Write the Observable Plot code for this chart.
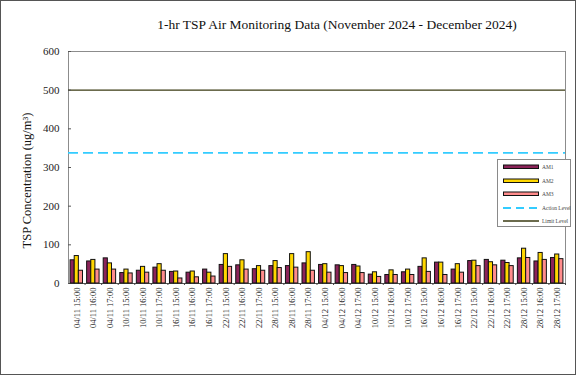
<!DOCTYPE html>
<html>
<head>
<meta charset="utf-8">
<script src="https://cdn.jsdelivr.net/npm/d3@7"></script>
<script src="https://cdn.jsdelivr.net/npm/@observablehq/plot@0.6"></script>
<style>
  html, body { margin: 0; padding: 0; background: #fff; }
  #wrap { position: relative; width: 576px; height: 375px; box-sizing: border-box; border: 1px solid #555; overflow: hidden; font-family: "Liberation Serif", "Times New Roman", serif; }
  #title { height: 40px; line-height: 48px; text-align: center; font-size: 13.5px; color: #111; padding-left: 98px; box-sizing: border-box; }
  #chart { position: relative; width: 574px; height: 333px; }
  #chart svg { position: absolute; left: 0; top: 0; }
  #legend { position: absolute; left: 496px; top: 158px; width: 74px; height: 68px; border: 1px solid #8a8a8a; background: #fff; box-sizing: border-box; }
  .li { position: absolute; left: 5px; height: 8px; display: flex; align-items: center; font-size: 5.5px; color: #444; white-space: nowrap; }
  .li svg { margin-right: 3px; flex: none; }
</style>
</head>
<body>
<div id="wrap">
  <div id="title">1-hr TSP Air Monitoring Data (November 2024 - December 2024)</div>
  <div id="chart"></div>
  <div id="legend"></div>
</div>
<script>
const categories = [
  "04/11 15:00","04/11 16:00","04/11 17:00",
  "10/11 15:00","10/11 16:00","10/11 17:00",
  "16/11 15:00","16/11 16:00","16/11 17:00",
  "22/11 15:00","22/11 16:00","22/11 17:00",
  "28/11 15:00","28/11 16:00","28/11 17:00",
  "04/12 15:00","04/12 16:00","04/12 17:00",
  "10/12 15:00","10/12 16:00","10/12 17:00",
  "16/12 15:00","16/12 16:00","16/12 17:00",
  "22/12 15:00","22/12 16:00","22/12 17:00",
  "28/12 15:00","28/12 16:00","28/12 17:00"
];
const seriesNames = ["AM1", "AM2", "AM3"];
const am1 = [60,57,65, 27,33,41, 30,28,36, 48,47,37, 45,45,52, 48,47,48, 23,22,29, 43,54,36, 58,61,59, 65,57,66];
const am2 = [71,61,52, 36,43,50, 31,31,28, 76,60,45, 58,76,81, 50,45,44, 29,34,36, 65,54,50, 59,55,53, 90,79,75];
const am3 = [33,36,36, 26,28,33, 13,16,18, 43,36,33, 40,41,33, 28,27,27, 17,22,22, 30,22,28, 45,47,45, 66,61,63];
const actionLevel = 338;
const limitLevel = 500;
const yTicks = [0, 100, 200, 300, 400, 500, 600];
const seriesColors = ["#8B2359", "#FFD700", "#FF8C8C"];
const actionColor = "#33CCFF";
const limitColor = "#3A3A12";
const yLabel = "TSP Concentration (ug/m³)";

const values = [am1, am2, am3];
const data = categories.flatMap((c, i) => seriesNames.map((s, k) => ({cat: c, s, v: values[k][i]})));

const common = {
  width: 574,
  height: 333,
  marginTop: 10,
  marginBottom: 91,
  marginLeft: 67,
  marginRight: 10,
  style: {fontFamily: "'Liberation Serif', 'Times New Roman', serif", color: "#222", background: "transparent"},
  y: {domain: [0, 600], axis: null}
};

// base layer: frame, reference lines, axes
const base = Plot.plot({
  ...common,
  x: {type: "band", domain: categories, padding: 0, round: false, axis: null},
  marks: [
    Plot.frame({stroke: "#8c8c8c", strokeWidth: 1}),
    Plot.ruleY([limitLevel], {stroke: limitColor, strokeWidth: 1.3}),
    Plot.ruleY([actionLevel], {stroke: actionColor, strokeWidth: 1.8, strokeDasharray: "10,5"}),
    Plot.ruleX([0], {frameAnchor: "left", stroke: "#555"}),
    Plot.ruleY([0], {stroke: "#555"}),
    // small tick marks between categories on the category axis
    Plot.axisX({anchor: "bottom", tickSize: 2, text: null, dx: 8.28, stroke: "#444", label: null}),
    Plot.axisX({anchor: "bottom", tickRotate: -90, tickSize: 0, tickPadding: 4, fontSize: 8.5, label: null}),
    Plot.axisY({ticks: yTicks, tickSize: -3, tickPadding: 12, fontSize: 11, label: null, stroke: "#555"}),
    Plot.text([yLabel], {frameAnchor: "left", textAnchor: "middle", rotate: -90, dx: -42, dy: 13, fontSize: 12.5, fill: "#111"})
  ]
});

// bar layer: grouped bars via facets
const bars = Plot.plot({
  ...common,
  fx: {domain: categories, padding: 0, round: false, axis: null},
  x: {domain: seriesNames, paddingInner: 0, paddingOuter: 0.5, round: false, axis: null},
  color: {domain: seriesNames, range: seriesColors},
  marks: [
    Plot.barY(data, {fx: "cat", x: "s", y: "v", fill: "s", stroke: "#111", strokeWidth: 1})
  ]
});

const host = document.getElementById("chart");
host.appendChild(base);
host.appendChild(bars);

// legend
const legend = document.getElementById("legend");
const legendItems = [
  ...seriesNames.map((s, k) => ({label: s, kind: "bar", color: seriesColors[k]})),
  {label: "Action Level", kind: "dash", color: actionColor},
  {label: "Limit Level", kind: "line", color: limitColor}
];
legendItems.forEach((it, i) => {
  const div = document.createElement("div");
  div.className = "li";
  div.style.top = (3 + i * 13.5) + "px";
  let sw;
  if (it.kind === "bar") {
    sw = `<svg width="36" height="6"><rect x="0.5" y="1" width="35" height="3.5" fill="${it.color}" stroke="#111" stroke-width="1"/></svg>`;
  } else if (it.kind === "dash") {
    sw = `<svg width="36" height="6"><line x1="0" x2="36" y1="3" y2="3" stroke="${it.color}" stroke-width="1.8" stroke-dasharray="8,5"/></svg>`;
  } else {
    sw = `<svg width="36" height="6"><line x1="0" x2="36" y1="3" y2="3" stroke="${it.color}" stroke-width="1.3"/></svg>`;
  }
  div.innerHTML = sw + `<span>${it.label}</span>`;
  legend.appendChild(div);
});
</script>
</body>
</html>
